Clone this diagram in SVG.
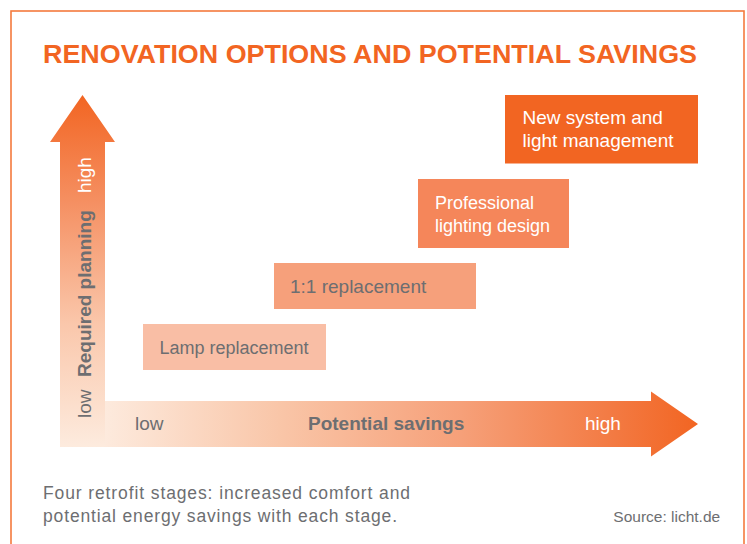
<svg xmlns="http://www.w3.org/2000/svg" width="747" height="544" viewBox="0 0 747 544">
  <defs>
    <linearGradient id="gV" x1="0" y1="447" x2="0" y2="95" gradientUnits="userSpaceOnUse">
      <stop offset="0" stop-color="#FDEBDE"/>
      <stop offset="0.35" stop-color="#FAC7AB"/>
      <stop offset="0.7" stop-color="#F58F61"/>
      <stop offset="1" stop-color="#F26522"/>
    </linearGradient>
    <linearGradient id="gH" x1="105" y1="0" x2="698" y2="0" gradientUnits="userSpaceOnUse">
      <stop offset="0" stop-color="#FDEADD"/>
      <stop offset="0.3" stop-color="#F9C5A7"/>
      <stop offset="0.6" stop-color="#F6A079"/>
      <stop offset="0.85" stop-color="#F37B44"/>
      <stop offset="1" stop-color="#F26522"/>
    </linearGradient>
    <style>
      .t { font-family: "Liberation Sans", Arial, sans-serif; }
      .title { font-size: 26px; font-weight: bold; fill: #F26522; }
      .lbl { font-size: 19px; }
      .sm { font-size: 18px; }
      .gray { fill: #6D6E71; }
      .white { fill: #FFFFFF; }
      .bold { font-weight: bold; }
      .cap { font-size: 17.5px; fill: #6D6E71; }
      .src { font-size: 15.5px; fill: #6D6E71; }
    </style>
  </defs>
  <rect x="0" y="0" width="747" height="544" fill="#FFFFFF"/>
  <rect x="11" y="11" width="733" height="560" fill="none" stroke="#F47A3E" stroke-width="1.6"/>
  <text class="t title" x="43" y="63" textLength="654" lengthAdjust="spacingAndGlyphs">RENOVATION OPTIONS AND POTENTIAL SAVINGS</text>

  <g id="axes">
    <path id="axis-y" d="M60,447 L60,142 L50,142 L82.5,95 L115,142 L105,142 L105,447 Z" fill="url(#gV)"/>
    <path id="axis-x" d="M105,401 L651,401 L651,391.5 L698,424 L651,456.5 L651,447 L105,447 Z" fill="url(#gH)"/>
    <g transform="translate(90.5,0)">
      <text class="t lbl gray" transform="translate(0,418) rotate(-90)">low</text>
      <text class="t lbl gray bold" transform="translate(0,377) rotate(-90)">Required planning</text>
      <text class="t lbl white" transform="translate(0,193) rotate(-90)">high</text>
    </g>
    <text class="t lbl gray" x="135" y="430">low</text>
    <text class="t lbl gray bold" x="308" y="430">Potential savings</text>
    <text class="t lbl white" x="585" y="430">high</text>
  </g>

  <g id="connectors"></g>

  <g id="node-lamp">
    <rect x="143" y="324" width="183" height="46" fill="#F9BEA5"/>
    <text class="t lbl sm gray" x="159.5" y="354">Lamp replacement</text>
  </g>
  <g id="node-1to1">
    <rect x="274" y="263" width="202" height="46" fill="#F6A07B"/>
    <text class="t lbl gray" x="290" y="293">1:1 replacement</text>
  </g>
  <g id="node-design">
    <rect x="418" y="179" width="151" height="69" fill="#F5865A"/>
    <text class="t lbl sm white" x="435" y="209">Professional</text>
    <text class="t lbl sm white" x="435" y="231.5">lighting design</text>
  </g>
  <g id="node-system">
    <rect x="505" y="95" width="193" height="68.5" fill="#F26522"/>
    <text class="t lbl white" x="522.5" y="124.3">New system and</text>
    <text class="t lbl white" x="522.5" y="146.5">light management</text>
  </g>

  <text class="t cap" x="43" y="498.5" textLength="367" lengthAdjust="spacing">Four retrofit stages: increased comfort and</text>
  <text class="t cap" x="43" y="522.3" textLength="354" lengthAdjust="spacing">potential energy savings with each stage.</text>
  <text class="t src" x="613.3" y="522.3">Source: licht.de</text>
</svg>
